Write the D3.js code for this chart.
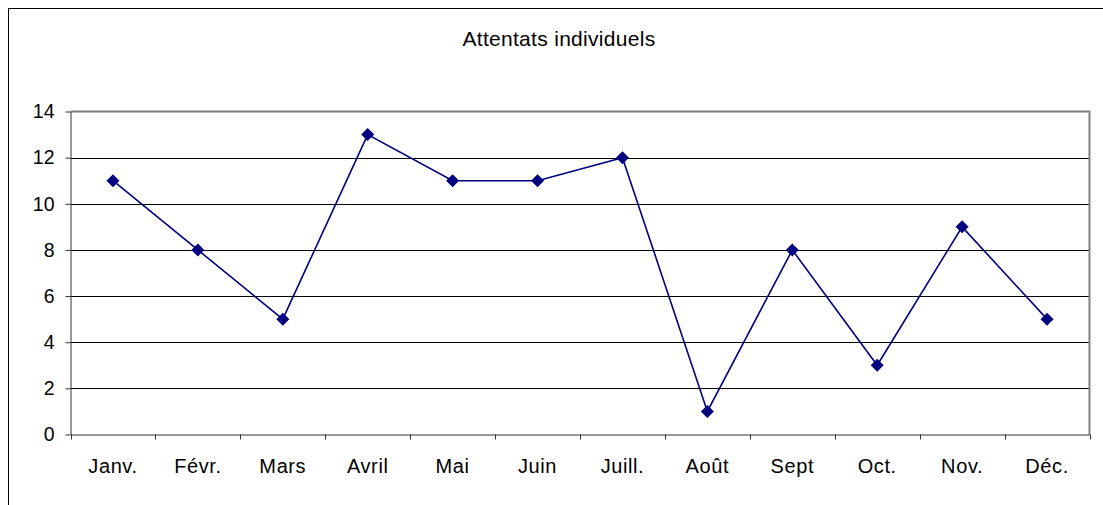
<!DOCTYPE html>
<html>
<head>
<meta charset="utf-8">
<script src="https://cdn.jsdelivr.net/npm/d3@7"></script>
<style>
  html, body { margin: 0; padding: 0; background: #fff; }
  svg { display: block; font-family: "Liberation Sans", Arial, sans-serif; }
</style>
</head>
<body>
<svg id="chart" width="1103" height="505"></svg>
<script>
const months = ["Janv.", "Févr.", "Mars", "Avril", "Mai", "Juin", "Juill.", "Août", "Sept", "Oct.", "Nov.", "Déc."];
const attacks = [11, 8, 5, 13, 11, 11, 12, 1, 8, 3, 9, 5];
const yTicks = [0, 2, 4, 6, 8, 10, 12, 14];
const title = "Attentats individuels";

const svg = d3.select("#chart");
const W = 1103, H = 505;
const plot = { left: 70.5, top: 111.5, right: 1089.5, bottom: 434.5 };
const FONT = "Liberation Sans, Arial, sans-serif";

// outer frame (runs off the right and bottom edges)
svg.append("rect")
  .attr("x", 8.5).attr("y", 8.5)
  .attr("width", W + 10).attr("height", H + 10)
  .attr("fill", "none").attr("stroke", "#000").attr("stroke-width", 1);

svg.append("text")
  .attr("x", 559).attr("y", 45.5)
  .attr("text-anchor", "middle")
  .attr("font-size", 21)
  .attr("letter-spacing", 0.3)
  .attr("fill", "#000")
  .text(title);

const x = d3.scaleBand().domain(months).range([plot.left, plot.right]);
const y = d3.scaleLinear().domain([0, 14]).range([plot.bottom, plot.top]);

// horizontal gridlines
svg.append("g")
  .selectAll("line")
  .data(yTicks.filter(d => d > 0 && d < 14))
  .join("line")
  .attr("x1", plot.left).attr("x2", plot.right)
  .attr("y1", d => Math.round(y(d)) + 0.5).attr("y2", d => Math.round(y(d)) + 0.5)
  .attr("stroke", "#000").attr("stroke-width", 1);

// plot area border (top and right in grey)
svg.append("path")
  .attr("d", `M${plot.left},${plot.top}H${plot.right}V${plot.bottom}`)
  .attr("fill", "none").attr("stroke", "#808080").attr("stroke-width", 2);

// y axis
const yAxis = svg.append("g")
  .attr("transform", `translate(${plot.left},0)`)
  .call(d3.axisLeft(y).tickValues(yTicks).tickSize(5).tickPadding(11).tickSizeOuter(0));
yAxis.select(".domain").attr("stroke", "#333");
yAxis.selectAll(".tick line").attr("stroke", "#333");
yAxis.selectAll(".tick text")
  .attr("font-size", 19.5).attr("fill", "#000")
  .attr("font-family", FONT);

// x axis with ticks between categories
const xAxis = svg.append("g")
  .attr("transform", `translate(0,${plot.bottom})`)
  .call(d3.axisBottom(x).tickSize(0).tickPadding(24));
xAxis.select(".domain").attr("stroke", "#333");
xAxis.selectAll(".tick text")
  .attr("font-size", 20).attr("letter-spacing", 0.6).attr("fill", "#000")
  .attr("font-family", FONT);
xAxis.selectAll(".boundary")
  .data(months.map((m, i) => i).concat([months.length]))
  .join("line")
  .attr("class", "boundary")
  .attr("x1", i => Math.round(plot.left + i * x.step()) + 0.5)
  .attr("x2", i => Math.round(plot.left + i * x.step()) + 0.5)
  .attr("y1", 0).attr("y2", 5)
  .attr("stroke", "#333");

// series line
const cx = d => x(d.m) + x.bandwidth() / 2;
const data = months.map((m, i) => ({ m, v: attacks[i] }));
svg.append("path")
  .datum(data)
  .attr("d", d3.line().x(cx).y(d => y(d.v)))
  .attr("fill", "none")
  .attr("stroke", "#000080")
  .attr("stroke-width", 1.6);

// diamond markers
svg.append("g")
  .selectAll("path")
  .data(data)
  .join("path")
  .attr("transform", d => `translate(${cx(d)},${y(d.v)})`)
  .attr("d", "M0,-6.5L6.5,0L0,6.5L-6.5,0Z")
  .attr("fill", "#000080");
</script>
</body>
</html>
